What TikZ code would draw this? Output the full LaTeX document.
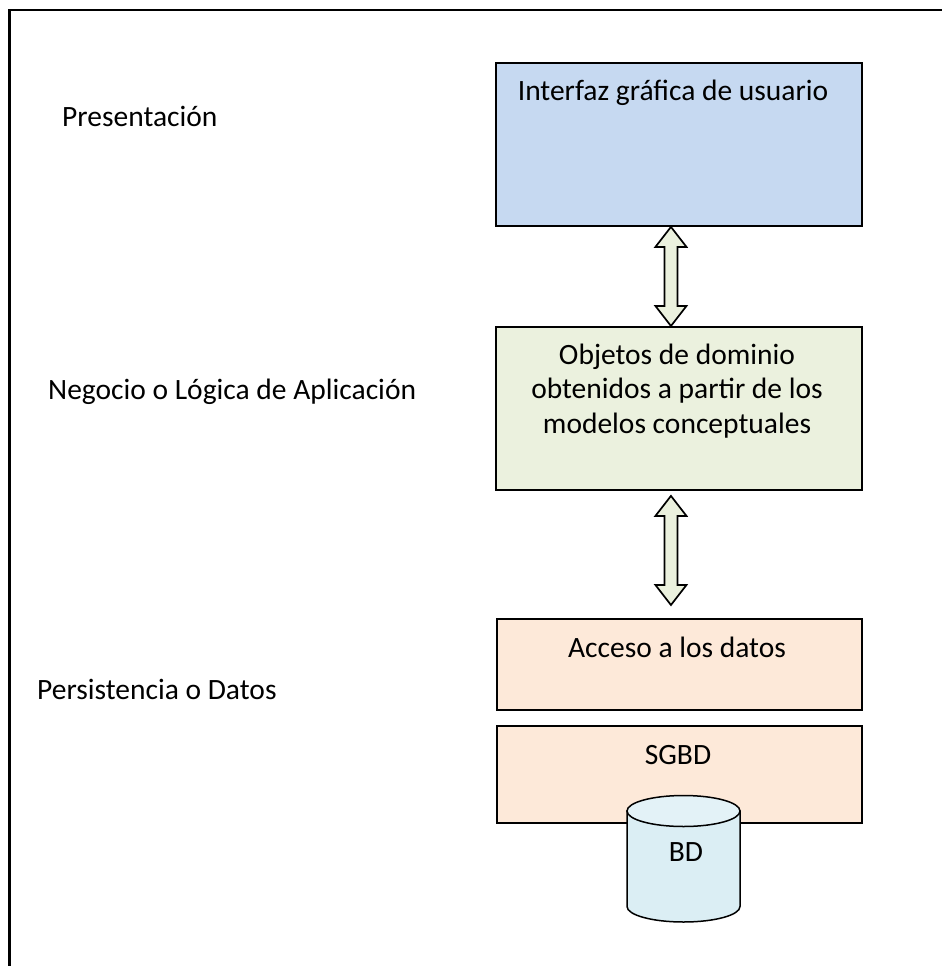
\documentclass[tikz,border=0pt]{standalone}
\usepackage{fontspec}
\setmainfont{Carlito}
\usepackage{xcolor}
\usetikzlibrary{calc, positioning}

\definecolor{guiblue}{HTML}{C6D9F1}
\definecolor{domgreen}{HTML}{EBF1DE}
\definecolor{datorange}{HTML}{FDE9D9}
\definecolor{dbcyan}{HTML}{DBEEF4}
\definecolor{dbtopcyan}{HTML}{E3F2F7}

% double block arrow between two named points
\newcommand{\dblarrow}[2]{%
    \draw[blockarrow] let \p1=(#1), \p2=(#2) in
        (\x1,\y1) -- (\x1+15.5pt,\y1-20pt) -- (\x1+6.5pt,\y1-20pt)
        -- (\x1+6.5pt,\y2+20pt) -- (\x1+15.5pt,\y2+20pt) -- (\x1,\y2)
        -- (\x1-15.5pt,\y2+20pt) -- (\x1-6.5pt,\y2+20pt)
        -- (\x1-6.5pt,\y1-20pt) -- (\x1-15.5pt,\y1-20pt) -- cycle;
}

\begin{document}
\begin{tikzpicture}[x=1pt, y=-1pt,
        every node/.style={font=\fontsize{29.5}{34.5}\selectfont, inner sep=0pt},
        layerbox/.style={draw, line width=1.9pt, anchor=north west},
        blockarrow/.style={draw, line width=1.7pt, fill=domgreen, line join=miter}]
            \useasboundingbox (0,0) rectangle (942,966);
            \draw[line width=2.4pt] (9.5,966) -- (9.5,10) -- (942,10);

            \node[layerbox, fill=guiblue, minimum width=366pt, minimum height=163pt] (gui) at (495,62) {};
            \node[layerbox, fill=domgreen, minimum width=366pt, minimum height=163pt] (dom) at (495,326) {};
            \node[layerbox, fill=datorange, minimum width=365pt, minimum height=91pt] (acc) at (496,618) {};
            \node[layerbox, fill=datorange, minimum width=365pt, minimum height=97pt] (sgbd) at (496,725) {};

            \node[anchor=base] (guitxt) at (673,100) {Interfaz gráfica de usuario};
            \node[anchor=base, align=center] (domtxt) at (677,433) {Objetos de dominio\\obtenidos a partir de los\\modelos conceptuales};
            \node[anchor=base] (acctxt) at (677,657) {Acceso a los datos};
            \node[anchor=base] (sgbdtxt) at (678,764) {SGBD};

            % cylinder
            \filldraw[fill=dbcyan, line width=1.5pt] (627,811) -- (627,906.5)
                arc[start angle=180, end angle=360, x radius=56.5pt, y radius=15.5pt] -- (740,811) -- cycle;
            \filldraw[fill=dbtopcyan, line width=1.5pt] (683.5,811) ellipse[x radius=56.5pt, y radius=15.5pt];
            \node[anchor=base] (bd) at (686,861) {BD};

            \coordinate (a1top) at ([xshift=-8pt]gui.south);
            \coordinate (a1bot) at ([xshift=-8pt]dom.north);
            \coordinate (a2top) at ([xshift=-8pt, yshift=-5pt]dom.south);
            \coordinate (a2bot) at ([xshift=-8pt, yshift=13pt]acc.north);
            \dblarrow{a1top}{a1bot}
            \dblarrow{a2top}{a2bot}

            \node[anchor=base west] (pres) at (62,126) {Presentación};
            \node[anchor=base west] (neg) at (48,399) {Negocio o Lógica de Aplicación};
            \node[anchor=base west] (pers) at (37,699) {Persistencia o Datos};
        \end{tikzpicture}
\end{document}
